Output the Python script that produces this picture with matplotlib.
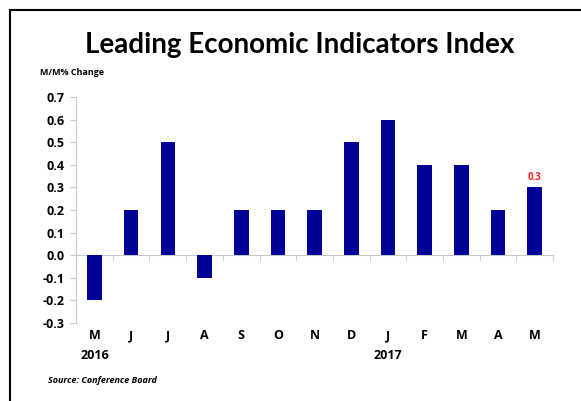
import matplotlib.pyplot as plt
import matplotlib.transforms as mtransforms
import numpy as np

# -----------------------------
# Data
# -----------------------------
MONTHS = ["M", "J", "J", "A", "S", "O", "N", "D", "J", "F", "M", "A", "M"]
VALUES = [-0.2, 0.2, 0.5, -0.1, 0.2, 0.2, 0.2, 0.5, 0.6, 0.4, 0.4, 0.2, 0.3]
YEARS = {0: "2016", 8: "2017"}
Y_TICKS = [-0.3, -0.2, -0.1, 0.0, 0.1, 0.2, 0.3, 0.4, 0.5, 0.6, 0.7]

BAR_COLOR = "#000096"
TITLE_FONT = "Lato"
FONT = "Open Sans"

fig = plt.figure(figsize=(5.81, 4.01), dpi=100)
ax = fig.add_axes([0.131, 0.1945, 0.821, 0.5635])

x = np.arange(len(VALUES))
ax.bar(x, VALUES, width=0.4, color=BAR_COLOR, zorder=3)

ax.set_xlim(-0.5, len(VALUES) - 0.5)
ax.set_ylim(-0.3, 0.7)

# y axis
ax.set_yticks(Y_TICKS)
ax.set_yticklabels([f"{v:.1f}" for v in Y_TICKS], fontsize=9, fontweight="bold", family=FONT)
ax.tick_params(axis="y", direction="out", length=4, color="#c8c8c8", pad=4)
ax.spines["left"].set_color("#c8c8c8")
ax.spines["top"].set_visible(False)
ax.spines["right"].set_visible(False)

# x axis line at zero with boundary ticks
ax.spines["bottom"].set_position(("data", 0))
ax.spines["bottom"].set_color("#c8c8c8")
ax.set_xticks(x)
ax.set_xticklabels([])
ax.set_xticks(np.arange(-0.5, len(VALUES)), minor=True)
ax.tick_params(axis="x", which="major", length=0)
ax.tick_params(axis="x", which="minor", direction="out", length=4, color="#c8c8c8")

trans = mtransforms.blended_transform_factory(ax.transData, ax.transAxes)
for i, m in enumerate(MONTHS):
    ax.text(i, -0.055, m, transform=trans, ha="center", va="center",
            fontsize=9, fontweight="bold", family=FONT)
for i, yr in YEARS.items():
    ax.text(i, -0.145, yr, transform=trans, ha="center", va="center",
            fontsize=9, fontweight="bold", family=FONT)

# latest value label
ax.text(x[-1], VALUES[-1] + 0.02, f"{VALUES[-1]:.1f}", ha="center", va="bottom",
        color="#ff2020", fontsize=7, fontweight="bold", family=FONT)

# titles and notes
fig.text(0.515, 0.888, "Leading Economic Indicators Index", ha="center", va="center",
         fontsize=20, family=TITLE_FONT, fontweight="bold")
fig.text(0.069, 0.82, "M/M% Change", ha="left", va="center",
         fontsize=6.5, fontweight="bold", family=FONT)
fig.text(0.083, 0.05, "Source: Conference Board", ha="left", va="center",
         fontsize=6.5, fontweight="bold", style="italic", family=FONT)

# frame lines (top and left)
fig.add_artist(plt.Line2D([0.017, 1.0], [0.975, 0.975], color="black", lw=1.5))
fig.add_artist(plt.Line2D([0.017, 0.017], [0.0, 0.975], color="black", lw=1.5))

fig.savefig("out.png", dpi=100)
